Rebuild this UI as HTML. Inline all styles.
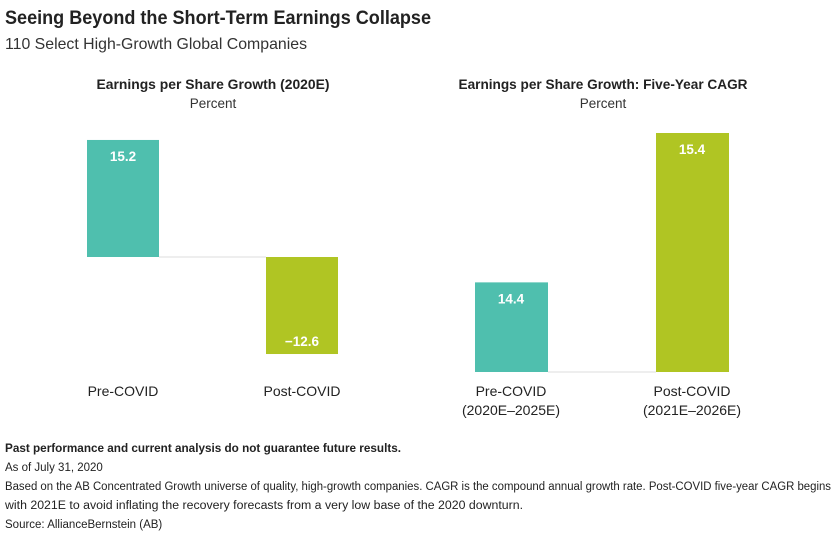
<!DOCTYPE html>
<html><head><meta charset="utf-8"><style>
body{margin:0;background:#fff;}
svg{display:block;font-family:"Liberation Sans",sans-serif;}
</style></head><body>
<svg id="c" width="840" height="535" xmlns="http://www.w3.org/2000/svg">
<text x="5" y="24" font-size="19" font-weight="bold" fill="#222" textLength="426" lengthAdjust="spacingAndGlyphs">Seeing Beyond the Short-Term Earnings Collapse</text>
<text x="5" y="49" font-size="16" fill="#333" textLength="302" lengthAdjust="spacingAndGlyphs">110 Select High-Growth Global Companies</text>
<text x="213" y="89" font-size="13.5" font-weight="bold" fill="#222" text-anchor="middle" textLength="233" lengthAdjust="spacingAndGlyphs">Earnings per Share Growth (2020E)</text>
<text x="213" y="108" font-size="13.5" fill="#333" text-anchor="middle">Percent</text>
<text x="603" y="89" font-size="13.5" font-weight="bold" fill="#222" text-anchor="middle" textLength="289" lengthAdjust="spacingAndGlyphs">Earnings per Share Growth: Five-Year CAGR</text>
<text x="603" y="108" font-size="13.5" fill="#333" text-anchor="middle">Percent</text>
<g id="marks"></g>
<g font-size="11.5" fill="#222">
<text x="5" y="452" font-weight="bold" textLength="396" lengthAdjust="spacingAndGlyphs">Past performance and current analysis do not guarantee future results.</text>
<text x="5" y="471">As of July 31, 2020</text>
<text x="5" y="490" textLength="826" lengthAdjust="spacingAndGlyphs">Based on the AB Concentrated Growth universe of quality, high-growth companies. CAGR is the compound annual growth rate. Post-COVID five-year CAGR begins</text>
<text x="5" y="509" textLength="518" lengthAdjust="spacingAndGlyphs">with 2021E to avoid inflating the recovery forecasts from a very low base of the 2020 downturn.</text>
<text x="5" y="528">Source: AllianceBernstein (AB)</text>
</g>
</svg>
<script>
const leftCategories = ["Pre-COVID", "Post-COVID"];
const leftValues = [15.2, -12.6];
const rightCategories = [["Pre-COVID","(2020E–2025E)"], ["Post-COVID","(2021E–2026E)"]];
const rightValues = [14.4, 15.4];
const colors = ["#4fbfae", "#b0c523"];
const NS = "http://www.w3.org/2000/svg";
const g = document.getElementById("marks");
function mk(tag, attrs){const e=document.createElementNS(NS,tag);for(const k in attrs)e.setAttribute(k,attrs[k]);g.appendChild(e);return e;}
// left: zero baseline at 257, 7.7 px per unit
const yL = v => 257 - v*7.7;
const xL = [87, 266];
mk("line",{x1:159,x2:266,y1:257,y2:257,stroke:"#ddd","stroke-width":1});
leftValues.forEach((v,i)=>{
  const y0=Math.min(yL(v),yL(0)), h=Math.abs(yL(v)-yL(0));
  const r=mk("rect",{x:xL[i],y:y0,width:72,height:h,fill:colors[i]});
  
  
  const t=mk("text",{x:xL[i]+36,y:v>=0?y0+21:y0+h-8,"text-anchor":"middle","font-size":13.5,"font-weight":"bold",fill:"#fff"});
  t.textContent=(v<0?"\u2212"+Math.abs(v):v).toString();
  
  
  const c=mk("text",{x:xL[i]+36,y:396,"text-anchor":"middle","font-size":14,fill:"#222"});
  c.textContent=leftCategories[i];
  
  
});
// right: truncated axis, 13.8 at 372, 15.4 at 133
const yR = v => 372 - (v-13.8)*(372-133)/(15.4-13.8);
const xR = [475, 656];
mk("line",{x1:548,x2:656,y1:372,y2:372,stroke:"#ddd","stroke-width":1});
rightValues.forEach((v,i)=>{
  const y0=yR(v), h=372-y0;
  const r=mk("rect",{x:xR[i],y:y0,width:73,height:h,fill:colors[i]});
  
  
  const t=mk("text",{x:xR[i]+36,y:y0+21,"text-anchor":"middle","font-size":13.5,"font-weight":"bold",fill:"#fff"});
  t.textContent=v.toFixed(1);
  
  
  rightCategories[i].forEach((s,j)=>{
    const c=mk("text",{x:xR[i]+36,y:396+j*19,"text-anchor":"middle","font-size":14,fill:"#222"});
    c.textContent=s;
    
    
  });
});
</script>
</body></html>
